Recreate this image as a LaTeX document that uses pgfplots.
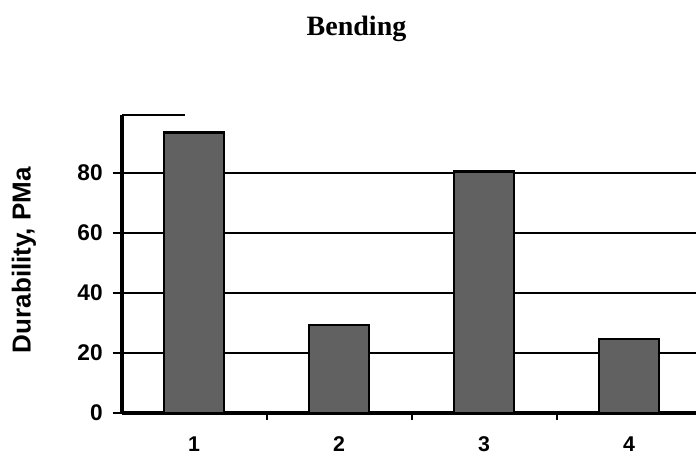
\documentclass[border=0pt]{standalone}
\usepackage{fontspec}
\setmainfont{Liberation Serif}
\newfontfamily\arial{Liberation Sans}
\usepackage{pgfplots}
\pgfplotsset{compat=1.18}

\begin{document}
\begin{tikzpicture}
% 1px of the reference = 0.75pt; axis box lower-left at (0,0)
\useasboundingbox (-91.5pt,-34.5pt) rectangle (430.5pt,309.75pt);
\begin{axis}[
    scale only axis,
    width=430.5pt, height=223.5pt,
    xmin=0.503, xmax=4.462,
    ymin=0, ymax=99.3,
    axis x line*=bottom, axis y line*=left,
    axis line style={line width=2.4pt},
    ybar, bar width=45pt, bar shift=0pt,
    xtick={1,2,3,4},
    minor xtick={0.5,1.5,2.5,3.5},
    major x tick style={draw=none},
    minor x tick style={black, line width=1.5pt},
    minor tick length=5pt,
    ytick={0,20,40,60,80},
    ymajorgrids,
    grid style={black, line width=2pt},
    major y tick style={black, line width=2pt},
    major tick length=7pt,
    tick align=outside,
    /pgf/number format/assume math mode=true,
    tick label style={font=\arial\bfseries\fontsize{17}{19}\selectfont},
    yticklabel style={xshift=-4pt},
    xticklabel style={yshift=-7.5pt, font=\arial\bfseries\fontsize{16}{18}\selectfont},
    ylabel={Durability, PMa},
    ylabel style={font=\arial\bfseries\fontsize{19.5}{22}\selectfont, at={(axis description cs:-0.171,0.513)}, anchor=center, rotate=0},
    clip=false,
]
\addplot[draw=black, line width=2pt, fill=black!62] coordinates {
    (1,93.5)
    (2,29.3)
    (3,80.5)
    (4,24.7)
};
% short leftover segment at the top of the y axis
\draw[black, line width=2pt] (axis cs:0.503,99.3) -- (axis cs:0.937,99.3);
\end{axis}
\node[font=\bfseries\fontsize{21}{24}\selectfont, anchor=base] at (175.9pt,282.75pt) {Bending};
\end{tikzpicture}
\end{document}
